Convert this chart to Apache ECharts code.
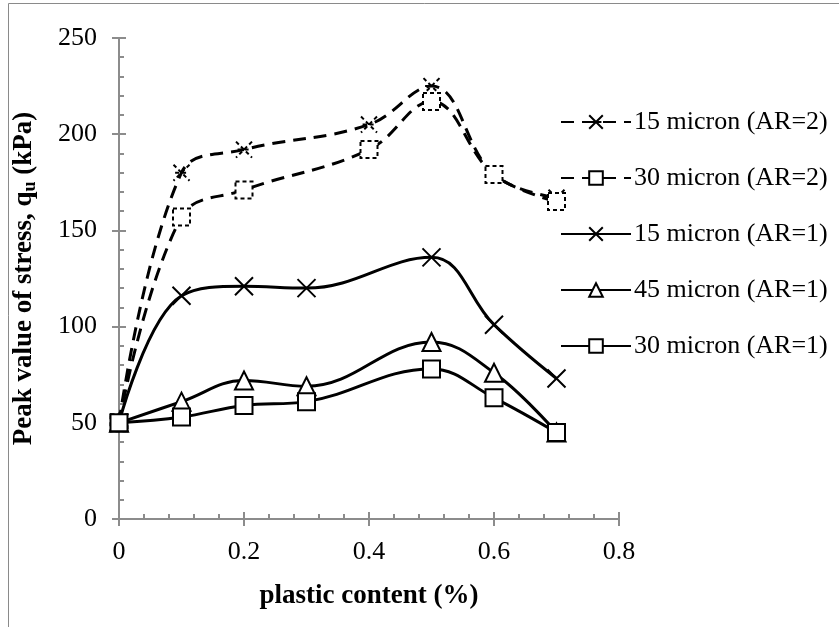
<!DOCTYPE html>
<html>
<head>
<meta charset="utf-8">
<script src="https://cdn.jsdelivr.net/npm/echarts@6/dist/echarts.min.js"></script>
<style>
html,body{margin:0;padding:0;background:#fff;}
#chart{width:839px;height:627px;}
</style>
</head>
<body>
<div id="chart"></div>
<script>
// ---- data ----
const seriesNames = ['15 micron (AR=2)', '30 micron (AR=2)', '15 micron (AR=1)', '45 micron (AR=1)', '30 micron (AR=1)'];
const x15ar2 = [0, 0.1, 0.2, 0.4, 0.5, 0.6, 0.7];
const y15ar2 = [50, 180, 192, 205, 225, 179, 167];
const x30ar2 = [0, 0.1, 0.2, 0.4, 0.5, 0.6, 0.7];
const y30ar2 = [50, 157, 171, 192, 217, 179, 165];
const x15ar1 = [0, 0.1, 0.2, 0.3, 0.5, 0.6, 0.7];
const y15ar1 = [50, 116, 121, 120, 136, 101, 73];
const x45ar1 = [0, 0.1, 0.2, 0.3, 0.5, 0.6, 0.7];
const y45ar1 = [50, 61, 72, 69, 92, 76, 45];
const x30ar1 = [0, 0.1, 0.2, 0.3, 0.5, 0.6, 0.7];
const y30ar1 = [50, 53, 59, 61, 78, 63, 45];
const xTicks = [0, 0.2, 0.4, 0.6, 0.8];
const yTicks = [0, 50, 100, 150, 200, 250];

const FONT = 'Liberation Serif';
const AXIS = '#8c8c8c';
const pairs = (xs, ys) => xs.map((v, i) => [v, ys[i]]);

const X_PATH = 'path://M0,0L10,10M10,0L0,10';
const STAR_PATH = 'path://M0,0L10,10M10,0L0,10M1,5L9,5';

function mkSeries(name, data, symbol, dashed, size) {
  return {
    name: name, type: 'line', data: data, smooth: 0.4,
    xAxisIndex: 0, yAxisIndex: 0,
    symbol: symbol, symbolSize: size, showAllSymbol: true,
    lineStyle: { color: '#000', width: 3, type: dashed ? [13, 8] : 'solid' },
    itemStyle: { color: '#fff', borderColor: '#000', borderWidth: 2, borderType: dashed ? [4, 3] : 'solid' },
    emphasis: { disabled: true }
  };
}

const chart = echarts.init(document.getElementById('chart'), null, { renderer: 'canvas' });
const option = {
  animation: false,
  backgroundColor: '#fff',
  textStyle: { fontFamily: FONT, color: '#000' },
  graphic: [{
    type: 'rect', shape: { x: 8.5, y: 3.5, width: 840, height: 640 },
    style: { fill: 'none', stroke: '#8a8a8a', lineWidth: 1 }, silent: true, z: -10
  }],
  grid: { left: 119, right: 220, top: 38, bottom: 108, containLabel: false },
  legend: {
    orient: 'vertical', left: 555, top: 103,
    itemWidth: 70, itemHeight: 17, itemGap: 28,
    data: seriesNames,
    textStyle: { fontFamily: FONT, fontSize: 26, color: '#000', lineHeight: 28, padding: [0, 0, 0, -2] },
    selectedMode: false
  },
  xAxis: [{
    type: 'value', position: 'bottom', min: 0, max: 0.8, interval: 0.2,
    axisLine: { show: true, onZero: false, lineStyle: { color: AXIS, width: 2 } },
    axisTick: { show: true, inside: false, length: 7, lineStyle: { color: AXIS, width: 2 } },
    minorTick: { show: false },
    splitLine: { show: false },
    axisLabel: { fontFamily: FONT, fontSize: 26, color: '#000', margin: 20,
      formatter: v => { const s = xTicks.find(t => Math.abs(t - v) < 1e-9); return s === undefined ? '' : String(s); } },
    name: 'plastic content (%)', nameLocation: 'middle', nameGap: 64,
    nameTextStyle: { fontFamily: FONT, fontSize: 27, fontWeight: 'bold', color: '#000' }
  }, {
    type: 'value', position: 'bottom', min: 0, max: 0.8, interval: 0.2,
    axisLine: { show: false, onZero: false },
    axisTick: { show: true, inside: true, length: 7, lineStyle: { color: AXIS, width: 2 } },
    minorTick: { show: true, splitNumber: 5, length: 5, lineStyle: { color: AXIS, width: 2 } },
    splitLine: { show: false }, axisLabel: { show: false }
  }],
  yAxis: [{
    type: 'value', position: 'left', min: 0, max: 250, interval: 50,
    axisLine: { show: true, onZero: false, lineStyle: { color: AXIS, width: 2 } },
    axisTick: { show: true, inside: false, length: 7, lineStyle: { color: AXIS, width: 2 } },
    minorTick: { show: false },
    splitLine: { show: false },
    axisLabel: { fontFamily: FONT, fontSize: 26, color: '#000', margin: 22,
      formatter: v => { const s = yTicks.find(t => t === v); return s === undefined ? '' : String(s); } },
    name: '{b|Peak value of stress, q}{s|u}{b| (kPa)}', nameLocation: 'middle', nameGap: 80,
    nameTextStyle: {
      rich: {
        b: { fontFamily: FONT, fontSize: 27, fontWeight: 'bold', color: '#000', lineHeight: 30 },
        s: { fontFamily: FONT, fontSize: 18, fontWeight: 'bold', color: '#000', lineHeight: 18, verticalAlign: 'bottom', padding: [6, 0, 0, 0] }
      }
    }
  }, {
    type: 'value', position: 'left', min: 0, max: 250, interval: 50,
    axisLine: { show: false, onZero: false },
    axisTick: { show: true, inside: true, length: 7, lineStyle: { color: AXIS, width: 2 } },
    minorTick: { show: true, splitNumber: 5, length: 5, lineStyle: { color: AXIS, width: 2 } },
    splitLine: { show: false }, axisLabel: { show: false }
  }],
  series: [
    mkSeries(seriesNames[0], pairs(x15ar2, y15ar2), STAR_PATH, true, 16),
    mkSeries(seriesNames[1], pairs(x30ar2, y30ar2), 'rect', true, 17),
    mkSeries(seriesNames[2], pairs(x15ar1, y15ar1), X_PATH, false, 18),
    mkSeries(seriesNames[3], pairs(x45ar1, y45ar1), 'triangle', false, 18),
    mkSeries(seriesNames[4], pairs(x30ar1, y30ar1), 'rect', false, 17)
  ]
};
chart.setOption(option);
</script>
</body>
</html>
